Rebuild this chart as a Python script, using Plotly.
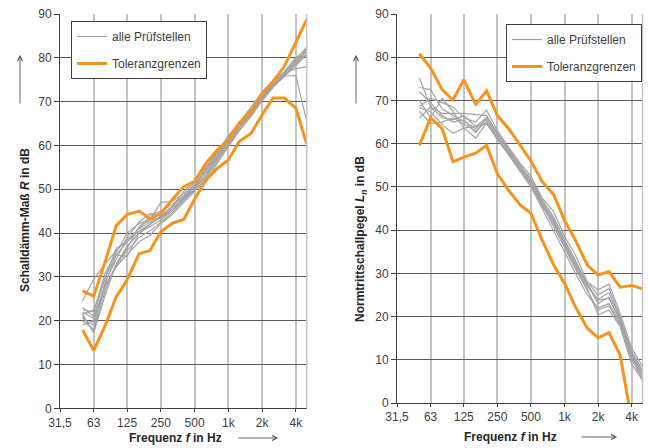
import math
import plotly.graph_objects as go

# third-octave centre frequencies (Hz)
freqs = [50, 63, 80, 100, 125, 160, 200, 250, 315, 400, 500, 630, 800,
         1000, 1250, 1600, 2000, 2500, 3150, 4000, 5000]

tick_vals = [31.5, 63, 125, 250, 500, 1000, 2000, 4000]
tick_text = ["31,5", "63", "125", "250", "500", "1k", "2k", "4k"]

# ---- left: Schalldämm-Maß R ----
R_upper = [26.8, 25.6, 33.6, 41.7, 44.2, 45.0, 43.2, 44.5, 47.6, 50.6, 51.8,
           55.9, 59.0, 61.3, 65.1, 67.7, 71.9, 74.6, 78.0, 83.7, 88.7]
R_lower = [17.9, 13.2, 19.0, 25.5, 29.3, 35.3, 36.0, 40.3, 42.2, 43.1, 47.7,
           52.1, 54.8, 56.7, 60.9, 62.8, 67.0, 70.8, 70.8, 68.5, 60.3]
R_labs = [
    [24.5, 29.5, 33.0, 36.0, 38.5, 41.0, 42.5, 43.5, 45.5, 48.0, 50.5, 54.5, 58.0, 61.5, 64.5, 68.0, 71.5, 74.0, 76.5, 79.5, 82.5],
    [22.5, 22.0, 31.0, 35.5, 40.0, 42.2, 43.0, 47.0, 47.2, 49.0, 51.5, 55.0, 58.5, 62.0, 65.0, 68.5, 72.0, 74.5, 76.8, 80.0, 82.0],
    [21.0, 17.5, 27.0, 33.0, 37.0, 40.0, 41.5, 43.0, 45.0, 47.5, 50.0, 53.0, 57.0, 60.5, 64.0, 67.5, 71.0, 73.8, 76.0, 79.0, 81.5],
    [20.5, 19.0, 28.0, 32.5, 36.0, 39.0, 40.5, 42.5, 44.5, 47.0, 49.5, 52.5, 56.5, 60.0, 63.5, 67.0, 70.5, 73.5, 76.0, 78.5, 81.0],
    [23.0, 21.0, 30.0, 35.0, 38.0, 41.0, 44.0, 45.0, 46.5, 48.5, 51.0, 54.0, 57.5, 61.0, 64.5, 68.0, 71.5, 74.0, 76.5, 77.5, 78.0],
    [20.0, 18.0, 29.0, 34.0, 39.0, 42.5, 44.5, 44.0, 46.0, 49.5, 52.0, 55.0, 58.5, 62.2, 65.2, 68.8, 72.2, 74.5, 76.7, 80.0, 80.5],
    [22.0, 20.5, 28.0, 32.3, 35.0, 38.0, 39.5, 42.2, 44.2, 47.0, 49.7, 51.5, 56.0, 59.8, 63.3, 66.7, 70.2, 73.2, 75.8, 76.0, 65.5],
    [21.5, 17.2, 26.0, 33.0, 36.5, 41.5, 43.0, 43.5, 45.0, 47.5, 50.5, 53.5, 57.0, 60.5, 64.0, 67.3, 70.8, 73.5, 75.7, 78.2, 80.8],
    [19.0, 20.0, 28.5, 35.0, 34.7, 40.0, 42.0, 44.0, 46.0, 48.5, 51.0, 54.5, 58.0, 61.0, 64.5, 67.5, 71.0, 74.0, 76.5, 79.5, 81.5],
    [21.5, 22.4, 30.0, 36.5, 38.0, 40.5, 42.0, 43.8, 45.5, 48.0, 50.5, 53.0, 57.5, 61.0, 64.3, 67.8, 71.3, 73.5, 76.0, 78.8, 82.0],
]

# ---- right: Normtrittschallpegel Ln ----
L_upper = [80.8, 77.5, 72.5, 70.1, 74.8, 69.1, 72.2, 66.5, 63.5, 59.7, 56.0,
           51.2, 48.2, 42.2, 37.7, 31.9, 29.6, 30.4, 26.8, 27.2, 26.4]
L_lower = [59.6, 66.0, 63.5, 55.8, 56.9, 57.8, 59.6, 53.0, 49.2, 45.8, 43.9,
           37.7, 31.9, 27.7, 22.3, 17.3, 15.1, 16.3, 11.1, -4.0, None]
L_labs = [
    [75.2, 68.5, 66.0, 65.5, 66.5, 64.0, 66.0, 62.0, 58.5, 54.5, 51.0, 46.5, 42.5, 37.5, 32.5, 28.0, 25.0, 26.5, 20.0, 11.5, 7.0],
    [73.0, 72.5, 68.0, 66.5, 65.0, 63.5, 65.5, 61.5, 58.0, 54.0, 50.5, 46.0, 42.0, 37.0, 32.5, 27.5, 23.0, 24.5, 19.5, 11.0, 6.5],
    [68.6, 70.5, 69.5, 68.5, 66.0, 65.0, 67.8, 63.0, 59.2, 55.5, 52.5, 47.4, 44.3, 38.5, 34.3, 28.0, 26.2, 27.5, 20.8, 12.7, 8.4],
    [68.3, 67.4, 64.4, 62.4, 63.6, 61.3, 64.7, 60.9, 57.4, 53.5, 50.0, 45.0, 40.0, 35.0, 30.0, 25.0, 22.0, 23.0, 18.5, 10.5, 6.0],
    [67.5, 64.7, 65.0, 66.0, 64.5, 63.0, 65.0, 61.0, 58.0, 54.0, 50.5, 46.0, 41.0, 36.0, 31.0, 26.0, 21.5, 22.5, 18.0, 10.0, 5.5],
    [65.9, 68.6, 67.0, 67.0, 67.0, 66.7, 66.5, 62.5, 58.5, 55.0, 51.5, 46.5, 42.0, 37.0, 32.0, 27.0, 24.0, 25.5, 19.8, 12.0, 7.5],
    [70.0, 66.0, 70.5, 67.5, 63.6, 64.0, 64.7, 61.2, 57.7, 54.0, 50.8, 45.5, 41.5, 36.5, 31.5, 26.5, 20.4, 21.5, 17.7, 9.0, 5.3],
    [72.0, 69.5, 66.5, 65.0, 65.5, 62.5, 66.0, 62.5, 58.7, 55.0, 51.8, 47.0, 43.0, 37.8, 33.0, 27.5, 23.8, 24.2, 19.0, 11.5, 7.2],
]

GRAY = "#a3a3a3"
ORANGE = "#f7941d"
FONT = "Liberation Sans, Arial, sans-serif"
TXT = "#404040"

fig = go.Figure()

def add_panel(xa, ya, labs, upper, lower, legend):
    for k, s in enumerate(labs):
        fig.add_trace(go.Scatter(x=freqs, y=s, mode="lines", xaxis=xa, yaxis=ya,
                                 line=dict(color=GRAY, width=1.2),
                                 name="alle Prüfstellen", legend=legend,
                                 legendgroup=legend + "a", showlegend=(k == 0)))
    fig.add_trace(go.Scatter(x=freqs, y=upper, mode="lines", xaxis=xa, yaxis=ya,
                             line=dict(color=ORANGE, width=3),
                             name="Toleranzgrenzen", legend=legend,
                             legendgroup=legend + "b", showlegend=True))
    fig.add_trace(go.Scatter(x=freqs, y=lower, mode="lines", xaxis=xa, yaxis=ya,
                             line=dict(color=ORANGE, width=3),
                             name="Toleranzgrenzen", legend=legend,
                             legendgroup=legend + "b", showlegend=False))

add_panel("x", "y", R_labs, R_upper, R_lower, "legend")
add_panel("x2", "y2", L_labs, L_upper, L_lower, "legend2")

W, H = 648, 448
def px(v): return v / W
def py(v): return 1 - v / H

xcommon = dict(type="log", range=[math.log10(31.5), math.log10(5000)],
               tickmode="array", tickvals=tick_vals, ticktext=tick_text,
               showgrid=True, gridcolor="#c4c4c4", gridwidth=1.5,
               showline=True, linecolor="#404040", linewidth=1,
               ticks="outside", ticklen=3, tickcolor="#404040",
               tickfont=dict(family=FONT, size=12, color=TXT), zeroline=False,
               automargin=False)
ycommon = dict(range=[0, 90], dtick=10, tick0=0,
               showgrid=True, gridcolor="#5c5c5c", gridwidth=1.2,
               showline=True, linecolor="#404040", linewidth=1,
               ticks="outside", ticklen=5, tickcolor="#404040",
               tickfont=dict(family=FONT, size=12, color=TXT), zeroline=False,
               automargin=False)

legcommon = dict(bgcolor="white", bordercolor="#404040", borderwidth=1,
                 font=dict(family=FONT, size=12, color=TXT),
                 xanchor="left", yanchor="top", itemwidth=30,
                 traceorder="grouped", tracegroupgap=8)

fig.update_layout(
    width=W, height=H, margin=dict(l=0, r=0, t=0, b=0, autoexpand=False),
    paper_bgcolor="white", plot_bgcolor="white", showlegend=True,
    xaxis=dict(domain=[px(60), px(306.7)], anchor="y", **xcommon),
    yaxis=dict(domain=[py(408.3), py(14)], anchor="x", **ycommon),
    xaxis2=dict(domain=[px(397), px(642.5)], anchor="y2", **xcommon),
    yaxis2=dict(domain=[py(403), py(14)], anchor="x2", **ycommon),
    legend=dict(x=px(71), y=py(21), **legcommon),
    legend2=dict(x=px(506), y=py(24), **legcommon),
)

# right frame edges (light gray)
for xd, yd in (("x domain", "y domain"), ("x2 domain", "y2 domain")):
    fig.add_shape(type="line", xref=xd, yref=yd, x0=1, x1=1, y0=0, y1=1,
                  line=dict(color="#c4c4c4", width=1.5))

bold = dict(family=FONT, size=12, color="#262626")
ann = [
    dict(x=px(25), y=py(220), text="<b>Schalldämm-Maß <i>R</i> in dB</b>", textangle=-90),
    dict(x=px(361), y=py(239), text="<b>Normtrittschallpegel <i>L<sub>n</sub></i> in dB</b>", textangle=-90),
    dict(x=px(175), y=py(438), text="<b>Frequenz <i>f</i> in Hz</b>", textangle=0),
    dict(x=px(511), y=py(437), text="<b>Frequenz <i>f</i> in Hz</b>", textangle=0),
]
for a in ann:
    fig.add_annotation(xref="paper", yref="paper", showarrow=False,
                       font=bold, xanchor="center", yanchor="middle", **a)

# axis arrows: (head x, head y, tail x, tail y) in pixels
arrows = [
    (20, 55, 20, 105), (356, 55, 356, 105),
    (278, 438, 237, 438), (617, 437, 580, 437),
]
for x1, y1, x0, y0 in arrows:
    fig.add_annotation(xref="paper", yref="paper", axref="pixel", ayref="pixel",
                       x=px(x1), y=py(y1), ax=x0 - x1, ay=y0 - y1, text="",
                       showarrow=True, arrowhead=5, arrowsize=1.2, arrowwidth=0.8,
                       arrowcolor="#404040")

fig.write_html("out.html", config={"displayModeBar": False},
               post_script="document.body.style.margin='0';document.body.style.overflow='hidden';")
